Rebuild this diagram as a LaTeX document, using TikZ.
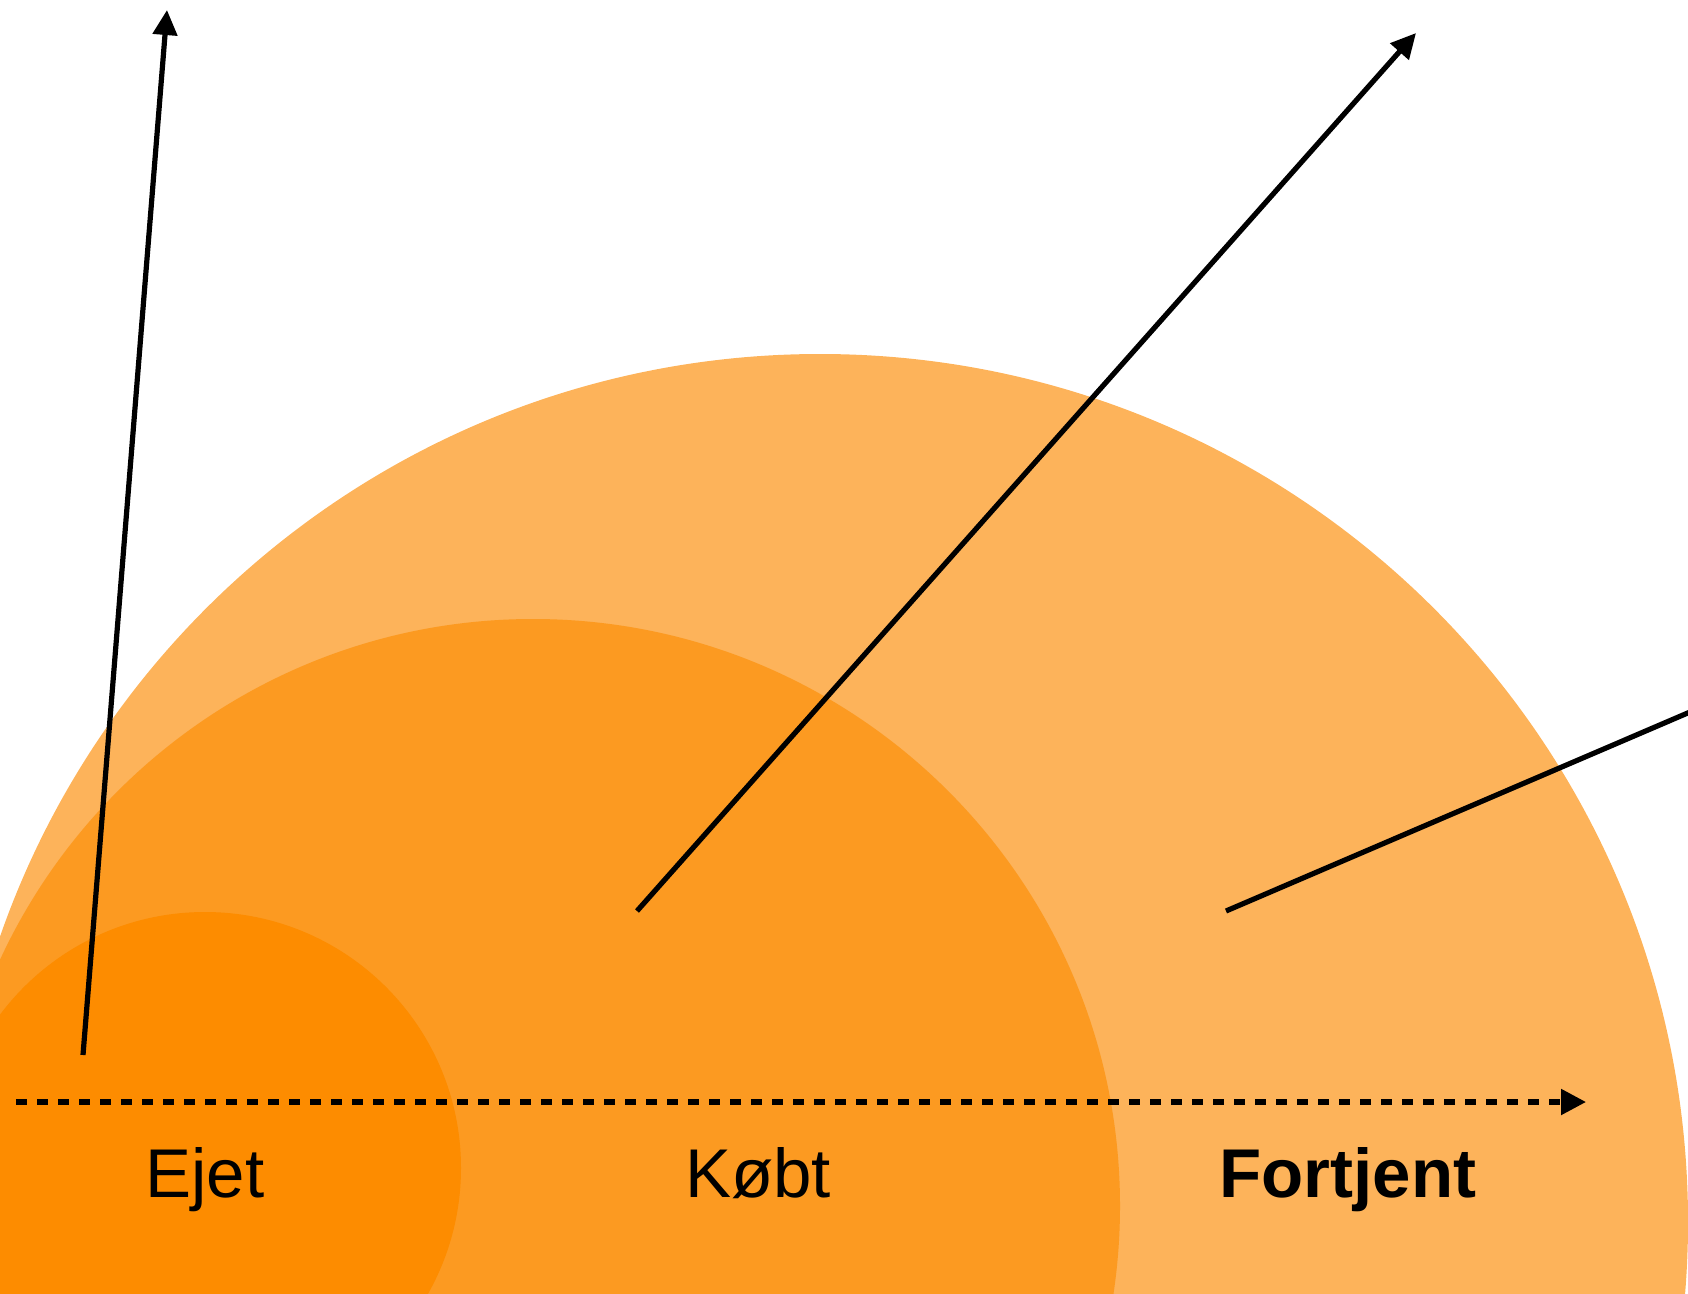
\documentclass[tikz,border=0pt]{standalone}
\usepackage{fontspec}
\setmainfont{Liberation Sans}
\usetikzlibrary{arrows.meta}
\definecolor{outerc}{RGB}{253,179,90}
\definecolor{midc}{RGB}{252,154,33}
\definecolor{innerc}{RGB}{253,140,0}
\tikzset{
  pointer/.style={draw=black, line width=5.2pt, -{Triangle[length=25pt,width=24pt]}},
  plainline/.style={draw=black, line width=5.2pt},
  axisline/.style={draw=black, line width=5.2pt, dash pattern=on 11pt off 10pt,
    -{Triangle[length=25pt,width=25pt]}},
  label/.style={font=\fontsize{69}{80}\selectfont, anchor=base, inner sep=0pt}
}
\begin{document}
\begin{tikzpicture}[x=1pt,y=-1pt]
\useasboundingbox (0,0) rectangle (1688,1293);
\clip (0,0) rectangle (1688,1293);
% nested discs
\fill[outerc] (820,1222) circle[radius=868pt];
\fill[midc] (533,1206) circle[radius=587pt];
\fill[innerc] (205,1168) circle[radius=256pt];
% arrow end points
\coordinate (a1s) at (83,1055);
\coordinate (a1e) at (167,10);
\coordinate (a2s) at (637,911);
\coordinate (a2e) at (1416,33);
\coordinate (a3s) at (1226,911);
\coordinate (a3e) at (1690,712);
\coordinate (ax0) at (16,1102);
\coordinate (ax1) at (1586,1102);
% connectors
\draw[pointer] (a1s) -- (a1e);
\draw[pointer] (a2s) -- (a2e);
\draw[plainline] (a3s) -- (a3e);
\draw[axisline] (ax0) -- (ax1);
% labels
\node[label] (ejet) at (205,1197) {Ejet};
\node[label] (kobt) at (758,1197) {Købt};
\node[label, font=\fontsize{69}{80}\selectfont\bfseries] (fortjent) at (1348,1197) {Fortjent};
\end{tikzpicture}
\end{document}
